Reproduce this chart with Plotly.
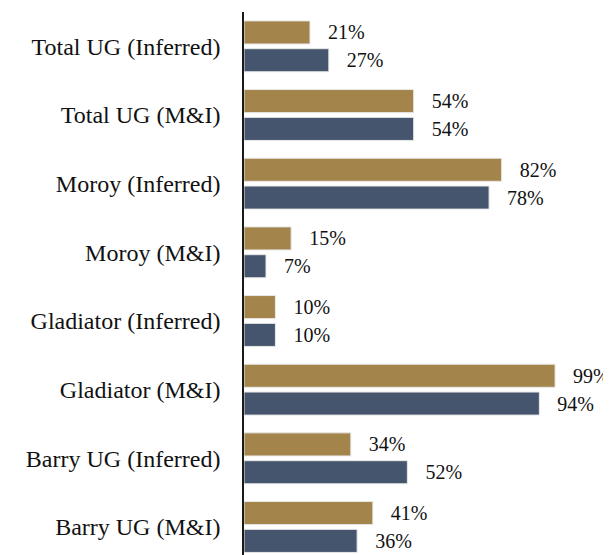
import plotly.graph_objects as go

categories = [
    "Total UG (Inferred)",
    "Total UG (M&I)",
    "Moroy (Inferred)",
    "Moroy (M&I)",
    "Gladiator (Inferred)",
    "Gladiator (M&I)",
    "Barry UG (Inferred)",
    "Barry UG (M&I)",
]
series_gold = [21, 54, 82, 15, 10, 99, 34, 41]
series_blue = [27, 54, 78, 7, 10, 94, 52, 36]

GOLD = "#A3844B"
BLUE = "#46556E"
FONT = "Liberation Serif, Times New Roman, serif"

fig = go.Figure()
for vals, col in [(series_gold, GOLD), (series_blue, BLUE)]:
    fig.add_trace(go.Bar(
        y=categories,
        x=vals,
        orientation="h",
        marker=dict(color=col, line=dict(color="#E8E8E8", width=1)),
        text=[f"{v}%" for v in vals],
        texttemplate="   %{text}",
        textposition="outside",
        textfont=dict(family=FONT, size=20, color="#111111"),
        cliponaxis=False,
        showlegend=False,
    ))

fig.update_layout(
    width=603,
    height=547,
    margin=dict(l=236, r=0, t=4, b=0),
    barmode="group",
    bargap=0.19,
    bargroupgap=0.17,
    plot_bgcolor="white",
    paper_bgcolor="white",
    font=dict(family=FONT, color="#111111"),
)
fig.update_xaxes(range=[0, 116.8], visible=False, showgrid=False,
                 zeroline=False, automargin=False)
fig.update_yaxes(
    type="category",
    categoryorder="array",
    categoryarray=categories,
    range=[7.408, -0.5],
    showline=True,
    linecolor="#1a1a1a",
    linewidth=1.5,
    showgrid=False,
    zeroline=False,
    ticks="",
    automargin=False,
    ticklabelstandoff=17,
    tickfont=dict(family=FONT, size=24, color="#111111"),
)

fig.write_html("out.html")
